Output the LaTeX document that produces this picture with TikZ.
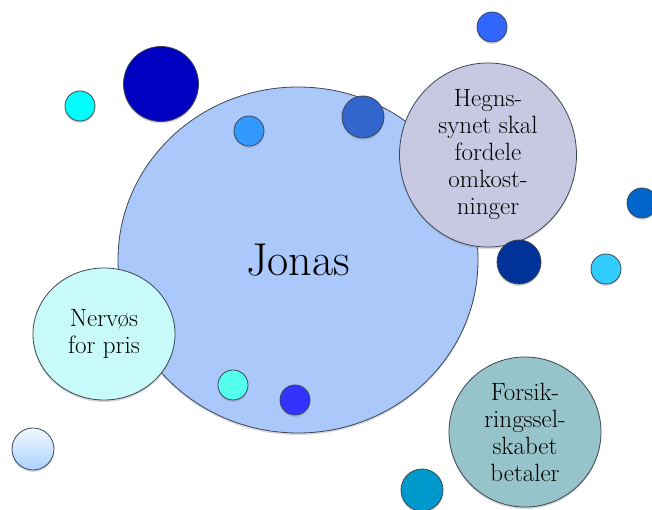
\documentclass[tikz,border=0pt]{standalone}
\usepackage{fontspec}
\usepackage{tikz}
\usetikzlibrary{shapes.geometric}
\usetikzlibrary{shadows}
\definecolor{edge}{RGB}{60,70,85}
\definecolor{jonasfill}{RGB}{170,200,250}
\definecolor{hegnsfill}{RGB}{200,200,226}
\definecolor{nervfill}{RGB}{200,250,250}
\definecolor{forsfill}{RGB}{150,196,202}
\definecolor{darkblue}{RGB}{0,0,192}
\definecolor{cyan}{RGB}{0,255,255}
\definecolor{midblue}{RGB}{51,153,255}
\definecolor{steelblue}{RGB}{51,102,204}
\definecolor{brightblue}{RGB}{51,102,255}
\definecolor{oceanblue}{RGB}{0,102,204}
\definecolor{navy}{RGB}{0,51,153}
\definecolor{skyblue}{RGB}{51,204,255}
\definecolor{aqua}{RGB}{85,255,238}
\definecolor{royal}{RGB}{51,51,255}
\definecolor{teal}{RGB}{0,153,204}
\definecolor{paleblue}{RGB}{170,210,255}

\begin{document}
\begin{tikzpicture}[x=1pt, y=1pt,
  bubble/.style={ellipse, draw=edge, line width=0.8pt, inner sep=0pt, align=center,
    drop shadow={shadow xshift=0pt, shadow yshift=-2pt, opacity=0.3}},
  dot/.style={circle, draw=edge, line width=0.8pt, inner sep=0pt, minimum size=#1,
    drop shadow={shadow xshift=0pt, shadow yshift=-2pt, opacity=0.3}},
  dot/.default=30pt,
  label text/.style={font=\fontsize{25}{27}\selectfont}]

\useasboundingbox (0,0) rectangle (652,510);

%---------------------------------------
% Main bubble
%---------------------------------------
\node[bubble, fill=jonasfill, minimum width=360pt, minimum height=346pt,
      font=\fontsize{46}{50}\selectfont] (jonas) at (298,250) {Jonas};

% small dots on the main bubble
\node[dot, fill=midblue]        (dotA) at (249,379) {};
\node[dot=42pt, fill=steelblue] (dotB) at (363,393) {};
\node[dot, fill=aqua]           (dotC) at (233,125) {};
\node[dot, fill=royal]          (dotD) at (295,110) {};

%---------------------------------------
% Satellite bubbles
%---------------------------------------
\node[bubble, fill=hegnsfill, minimum width=177pt, minimum height=164pt, label text]
      (hegns) at (488,355) {Hegns-\\synet skal\\fordele\\omkost-\\ninger};
\node[bubble, fill=nervfill, minimum width=142pt, minimum height=132pt, label text]
      (nervos) at (104,176) {Nervøs\\for pris};
\node[bubble, fill=forsfill, minimum width=152pt, minimum height=150pt, label text]
      (forsik) at (525,78) {Forsik-\\ringssel-\\skabet\\betaler};

%---------------------------------------
% Loose dots
%---------------------------------------
\node[dot=75pt, fill=darkblue]  (dotE) at (161,426) {};
\node[dot, fill=cyan]           (dotF) at (80,404) {};
\node[dot, fill=brightblue]     (dotG) at (492,483) {};
\node[dot, fill=oceanblue]      (dotH) at (642,307) {};
\node[dot=44pt, fill=navy]      (dotI) at (519,248) {};
\node[dot, fill=skyblue]        (dotJ) at (606,241) {};
\node[dot=42pt, top color=white!85!paleblue, bottom color=paleblue] (dotK) at (33,61) {};
\node[dot=42pt, fill=teal]      (dotL) at (422,20) {};

\end{tikzpicture}
\end{document}
